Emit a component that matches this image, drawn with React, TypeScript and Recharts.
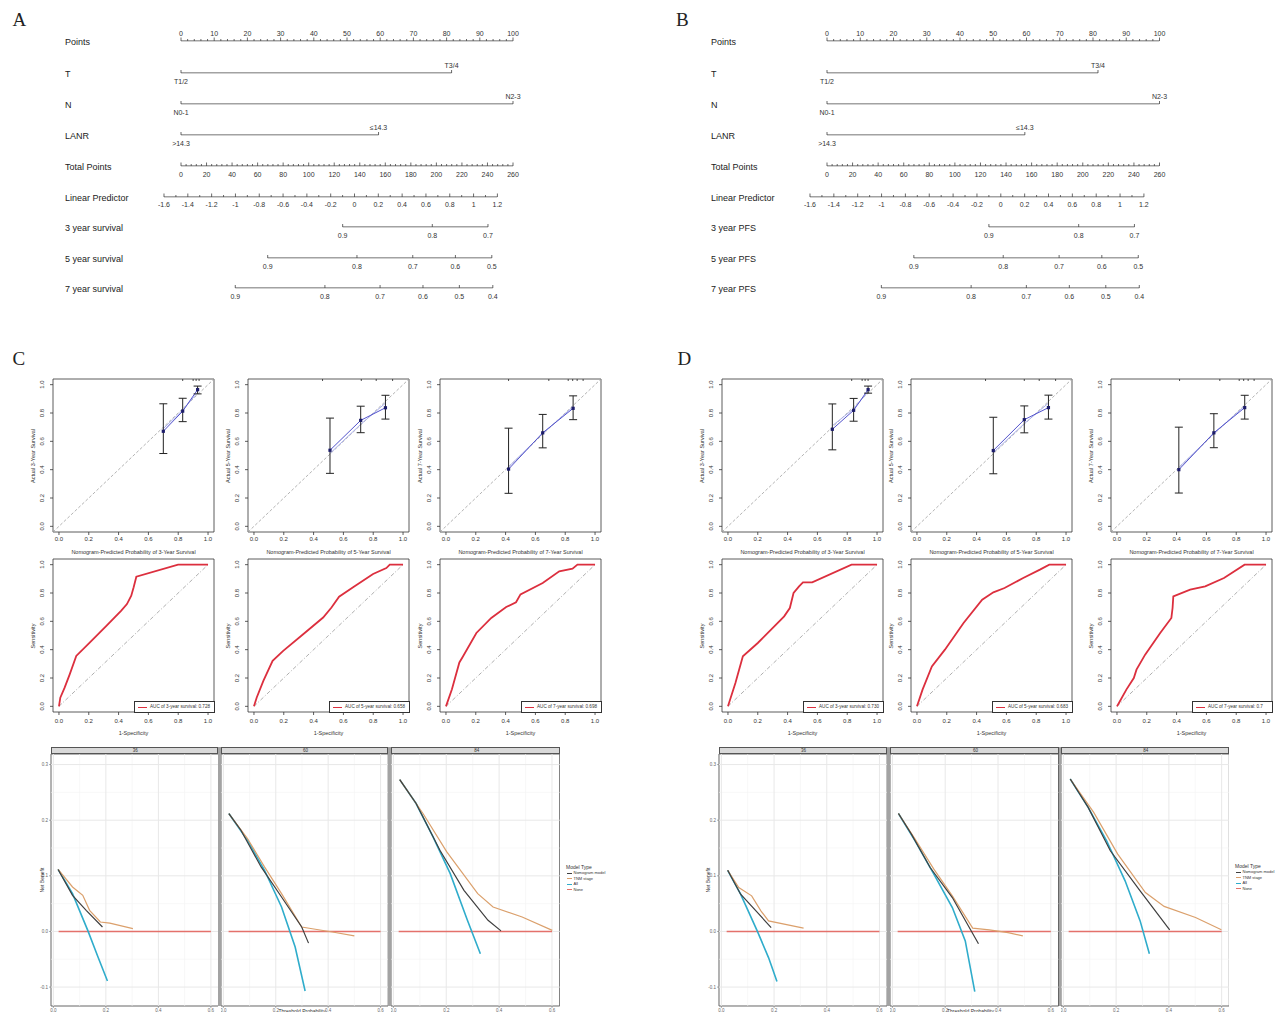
import React from 'react';
import {
  LineChart,
  Line,
  ComposedChart,
  Scatter,
  ErrorBar,
  XAxis,
  YAxis,
  ReferenceLine,
  ReferenceArea,
} from 'recharts';

const FONT = '"Liberation Sans", Arial, sans-serif';
const INK = '#333';

// ---------- nomogram (A / B) ----------
const pointLabels = [0, 10, 20, 30, 40, 50, 60, 70, 80, 90, 100];
const totalPointLabels = [0, 20, 40, 60, 80, 100, 120, 140, 160, 180, 200, 220, 240, 260];
const lpLabels = [-1.6, -1.4, -1.2, -1, -0.8, -0.6, -0.4, -0.2, 0, 0.2, 0.4, 0.6, 0.8, 1, 1.2];
// where LP -1.6 and LP 1.2 sit on the total-points scale
const lpEndsInTotalPoints = [-13, 248.1];

const tPoints = [0, 81.5];
const tLevels = ['T1/2', 'T3/4'];
const nPoints = [0, 100];
const nLevels = ['N0-1', 'N2-3'];
const lanrPoints = [0, 59.5];
const lanrLevels = ['>14.3', '≤14.3'];

// survival scales, positions in total points
const surv3Pos = [126.6, 196.8, 240.4];
const surv3Labels = ['0.9', '0.8', '0.7'];
const surv5Pos = [67.9, 137.8, 181.5, 214.9, 243.4];
const surv5Labels = ['0.9', '0.8', '0.7', '0.6', '0.5'];
const surv7Pos = [42.5, 112.7, 155.9, 189.5, 218, 244.2];
const surv7Labels = ['0.9', '0.8', '0.7', '0.6', '0.5', '0.4'];

// ---------- calibration ----------
const calC3Pred = [0.7, 0.83, 0.93];
const calC3Obs = [0.671, 0.813, 0.965];
const calC3Lo = [0.514, 0.739, 0.935];
const calC3Hi = [0.865, 0.904, 0.99];
const calC3Ideal = [0.69, 0.82, 0.945];
const calC5Pred = [0.51, 0.716, 0.882];
const calC5Obs = [0.537, 0.748, 0.837];
const calC5Lo = [0.374, 0.661, 0.757];
const calC5Hi = [0.764, 0.848, 0.925];
const calC5Ideal = [0.515, 0.72, 0.87];
const calC7Pred = [0.42, 0.649, 0.853];
const calC7Obs = [0.404, 0.66, 0.833];
const calC7Lo = [0.233, 0.554, 0.753];
const calC7Hi = [0.693, 0.79, 0.921];
const calC7Ideal = [0.42, 0.655, 0.845];

const calD3Pred = [0.7, 0.843, 0.94];
const calD3Obs = [0.685, 0.819, 0.965];
const calD3Lo = [0.54, 0.742, 0.94];
const calD3Hi = [0.864, 0.903, 0.99];
const calD3Ideal = [0.71, 0.83, 0.95];
const calD5Pred = [0.512, 0.72, 0.882];
const calD5Obs = [0.535, 0.753, 0.838];
const calD5Lo = [0.371, 0.66, 0.757];
const calD5Hi = [0.77, 0.85, 0.926];
const calD5Ideal = [0.52, 0.725, 0.87];
const calD7Pred = [0.415, 0.65, 0.857];
const calD7Obs = [0.4, 0.66, 0.838];
const calD7Lo = [0.235, 0.555, 0.757];
const calD7Hi = [0.7, 0.795, 0.925];
const calD7Ideal = [0.415, 0.655, 0.85];

const rug3 = [0.83, 0.9, 0.92, 0.94];
const rug5 = [0.46, 0.72, 0.82, 0.93];
const rug7 = [0.42, 0.69, 0.82, 0.85, 0.88, 0.92];

// ---------- ROC ----------
const rocC3 = [[0, 0], [0.009, 0.061], [0.038, 0.132], [0.072, 0.226], [0.116, 0.356], [0.206, 0.45], [0.318, 0.568], [0.418, 0.675], [0.456, 0.722], [0.485, 0.781], [0.501, 0.84], [0.519, 0.915], [0.799, 1], [1, 1]];
const rocC5 = [[0, 0], [0.018, 0.061], [0.063, 0.179], [0.125, 0.321], [0.196, 0.392], [0.33, 0.509], [0.464, 0.627], [0.52, 0.698], [0.571, 0.774], [0.665, 0.84], [0.799, 0.934], [0.888, 0.976], [0.911, 1], [1, 1]];
const rocC7 = [[0, 0], [0.04, 0.12], [0.09, 0.31], [0.11, 0.345], [0.204, 0.518], [0.304, 0.624], [0.404, 0.701], [0.47, 0.735], [0.5, 0.79], [0.649, 0.871], [0.76, 0.953], [0.849, 0.972], [0.882, 1], [1, 1]];
const rocD3 = [[0, 0], [0.05, 0.165], [0.1, 0.353], [0.2, 0.447], [0.377, 0.635], [0.415, 0.694], [0.44, 0.8], [0.477, 0.847], [0.503, 0.875], [0.565, 0.875], [0.829, 1], [1, 1]];
const rocD5 = [[0, 0], [0.0375, 0.118], [0.1, 0.282], [0.1875, 0.4], [0.3125, 0.588], [0.4375, 0.753], [0.5125, 0.805], [0.5875, 0.835], [0.7125, 0.906], [0.825, 0.965], [0.8875, 1], [1, 1]];
const rocD7 = [[0, 0], [0.013, 0.024], [0.063, 0.118], [0.113, 0.2], [0.131, 0.259], [0.189, 0.365], [0.29, 0.518], [0.365, 0.624], [0.373, 0.694], [0.378, 0.776], [0.491, 0.824], [0.592, 0.847], [0.718, 0.906], [0.856, 1], [1, 1]];
const aucLabelsC = ['AUC of 3-year survival: 0.728', 'AUC of 5-year survival: 0.658', 'AUC of 7-year survival: 0.698'];
const aucLabelsD = ['AUC of 3-year survival: 0.730', 'AUC of 5-year survival: 0.683', 'AUC of 7-year survival: 0.7'];

// ---------- decision curves ----------
const dcaNone = [[0.02, 0], [0.6, 0]];
const dcaC36Nomo = [[0.018, 0.1115], [0.073, 0.065], [0.125, 0.038], [0.187, 0.008]];
const dcaC36Alt = [[0.018, 0.1115], [0.073, 0.08], [0.112, 0.065], [0.138, 0.038], [0.179, 0.017], [0.215, 0.015], [0.303, 0.005]];
const dcaC36All = [[0.018, 0.1115], [0.073, 0.068], [0.131, 0.002], [0.17, -0.046], [0.206, -0.089]];
const dcaC60Nomo = [[0.021, 0.212], [0.067, 0.182], [0.144, 0.116], [0.222, 0.062], [0.299, 0.008], [0.325, -0.021]];
const dcaC60Alt = [[0.021, 0.212], [0.092, 0.167], [0.157, 0.116], [0.222, 0.068], [0.299, 0.008], [0.351, 0.004], [0.416, -0.001], [0.5, -0.008]];
const dcaC60All = [[0.021, 0.212], [0.092, 0.164], [0.157, 0.11], [0.222, 0.044], [0.274, -0.028], [0.312, -0.107]];
const dcaC84Nomo = [[0.024, 0.273], [0.086, 0.23], [0.176, 0.146], [0.267, 0.074], [0.358, 0.02], [0.407, 0.001]];
const dcaC84Alt = [[0.024, 0.273], [0.112, 0.212], [0.202, 0.143], [0.319, 0.068], [0.377, 0.044], [0.487, 0.026], [0.601, 0.002]];
const dcaC84All = [[0.024, 0.273], [0.086, 0.23], [0.15, 0.17], [0.215, 0.104], [0.28, 0.02], [0.329, -0.04]];
const dcaD36Nomo = [[0.024, 0.11], [0.073, 0.067], [0.189, 0.007]];
const dcaD36Alt = [[0.024, 0.11], [0.066, 0.079], [0.115, 0.064], [0.15, 0.037], [0.179, 0.019], [0.312, 0.006]];
const dcaD36All = [[0.024, 0.11], [0.073, 0.067], [0.136, 0.001], [0.179, -0.047], [0.211, -0.09]];
const dcaD60Nomo = [[0.023, 0.212], [0.072, 0.175], [0.143, 0.115], [0.227, 0.061], [0.326, -0.022]];
const dcaD60Alt = [[0.023, 0.212], [0.086, 0.166], [0.157, 0.112], [0.227, 0.064], [0.304, 0.006], [0.367, 0.003], [0.438, -0.002], [0.494, -0.008]];
const dcaD60All = [[0.023, 0.212], [0.086, 0.163], [0.157, 0.103], [0.227, 0.043], [0.276, -0.017], [0.312, -0.108]];
const dcaD84Nomo = [[0.026, 0.274], [0.094, 0.223], [0.178, 0.145], [0.291, 0.073], [0.403, 0.003]];
const dcaD84Alt = [[0.026, 0.274], [0.115, 0.214], [0.206, 0.139], [0.311, 0.07], [0.382, 0.045], [0.501, 0.025], [0.599, 0.003]];
const dcaD84All = [[0.026, 0.274], [0.094, 0.223], [0.164, 0.163], [0.234, 0.091], [0.291, 0.019], [0.326, -0.04]];
const dcaStrips = ['36', '60', '84'];
const dcaModels = ['Nomogram model', 'TNM stage', 'All', 'None'];
const dcaColors = ['#3f3f3f', '#dba06c', '#2faccb', '#e4716b'];

const dcaXTicks = [0, 0.2, 0.4, 0.6];
const dcaXMinor = [0.1, 0.3, 0.5];
const dcaYTicks = [-0.1, 0, 0.1, 0.2, 0.3];
const dcaYMinor = [-0.05, 0.05, 0.15, 0.25];

const unitTicks = [0, 0.2, 0.4, 0.6, 0.8, 1];

const steps = (from: number, to: number, by: number) => {
  const out: number[] = [];
  for (let v = from; v <= to + by / 2; v += by) out.push(Math.round(v * 1000) / 1000);
  return out;
};
const fmt1 = (v: number) => Number(v).toFixed(1);
const pairs = (a: number[][]) => a.map(([x, y]) => ({ x, y }));

// ---------- small html text helpers ----------
const Txt = ({ x, y, size, children, anchor = 'left', color = INK }: any) => (
  <div
    style={{
      position: 'absolute',
      left: x,
      top: y,
      fontSize: size,
      lineHeight: 1,
      color,
      whiteSpace: 'nowrap',
      transform: anchor === 'center' ? 'translate(-50%, -50%)' : 'translateY(-50%)',
    }}
  >
    {children}
  </div>
);
const VTxt = ({ x, y, size, children }: any) => (
  <div
    style={{
      position: 'absolute',
      left: x,
      top: y,
      fontSize: size,
      lineHeight: 1,
      color: INK,
      whiteSpace: 'nowrap',
      transform: 'translate(-50%, -50%) rotate(-90deg)',
    }}
  >
    {children}
  </div>
);
const Letter = ({ x, y, text }: any) => (
  <div style={{ position: 'absolute', left: x, top: y, fontFamily: '"Liberation Serif", serif', fontSize: 19, lineHeight: '19px', color: '#222' }}>
    {text}
  </div>
);

// ---------- nomogram row ----------
function NomoRow({ x0, x1, y, domain, line, ticks, text, above, len }: any) {
  const pad = 30;
  const data = line.map((v: number) => ({ v, base: 0 }));
  const drawTick = (p: any) => {
    const v = p.payload.value;
    const i = ticks.indexOf(v);
    const t = text(v, i);
    const l = len(v);
    return (
      <g>
        {l > 0 ? <line x1={p.x} x2={p.x} y1={p.y} y2={p.y - l} stroke="#444" strokeWidth={0.8} /> : null}
        {t ? (
          <text x={p.x} y={above(i) ? p.y - 5 : p.y + 10.5} textAnchor="middle" fontSize={7} fill={INK} fontFamily={FONT}>
            {t}
          </text>
        ) : null}
      </g>
    );
  };
  return (
    <div style={{ position: 'absolute', left: x0 - pad, top: y - 20 }}>
      <LineChart width={x1 - x0 + pad * 2} height={40} data={data} margin={{ top: 19, right: pad, bottom: 0, left: pad }}>
        <XAxis
          type="number"
          dataKey="v"
          domain={domain}
          ticks={ticks}
          interval={0}
          allowDataOverflow
          axisLine={false}
          tickLine={false}
          tickSize={0}
          tickMargin={0}
          height={20}
          tick={drawTick}
        />
        <YAxis hide domain={[0, 1]} />
        <Line dataKey="base" stroke="#444" strokeWidth={1} dot={false} isAnimationActive={false} />
      </LineChart>
    </div>
  );
}

const rowY = [41, 73, 104, 134.5, 165.5, 196.5, 227, 257.5, 288];

function Nomogram({ x0, x1, labelX, outcome }: any) {
  const px = (tp: number) => x0 + (tp / 260) * (x1 - x0);
  const names = ['Points', 'T', 'N', 'LANR', 'Total Points', 'Linear Predictor', `3 year ${outcome}`, `5 year ${outcome}`, `7 year ${outcome}`];
  const levelRow = (pts: number[], lv: string[], y: number) => (
    <NomoRow x0={x0} x1={x1} y={y} domain={[0, 100]} line={pts} ticks={pts} text={(_v: number, i: number) => lv[i]} above={(i: number) => i === 1} len={() => 3} />
  );
  const survRow = (pos: number[], lab: string[], y: number) => (
    <NomoRow x0={x0} x1={x1} y={y} domain={[0, 260]} line={pos} ticks={pos} text={(_v: number, i: number) => lab[i]} above={() => false} len={() => 3} />
  );
  return (
    <>
      {names.map((n, i) => (
        <Txt key={n} x={labelX} y={rowY[i] + 1} size={9} color="#222">
          {n}
        </Txt>
      ))}
      <NomoRow
        x0={x0}
        x1={x1}
        y={rowY[0]}
        domain={[0, 100]}
        line={[0, 100]}
        ticks={steps(0, 100, 2)}
        text={(v: number) => (pointLabels.includes(v) ? String(v) : '')}
        above={() => true}
        len={(v: number) => (pointLabels.includes(v) ? 3.5 : 2)}
      />
      {levelRow(tPoints, tLevels, rowY[1])}
      {levelRow(nPoints, nLevels, rowY[2])}
      {levelRow(lanrPoints, lanrLevels, rowY[3])}
      <NomoRow
        x0={x0}
        x1={x1}
        y={rowY[4]}
        domain={[0, 260]}
        line={[0, 260]}
        ticks={steps(0, 260, 4)}
        text={(v: number) => (totalPointLabels.includes(v) ? String(v) : '')}
        above={() => false}
        len={(v: number) => (totalPointLabels.includes(v) ? 3.5 : 2)}
      />
      <NomoRow
        x0={px(lpEndsInTotalPoints[0])}
        x1={px(lpEndsInTotalPoints[1])}
        y={rowY[5]}
        domain={[-1.6, 1.2]}
        line={[-1.6, 1.2]}
        ticks={steps(-1.6, 1.2, 0.1)}
        text={(v: number) => (lpLabels.includes(v) ? String(v) : '')}
        above={() => false}
        len={(v: number) => (lpLabels.includes(v) ? 3.5 : 2)}
      />
      {survRow(surv3Pos, surv3Labels, rowY[6])}
      {survRow(surv5Pos, surv5Labels, rowY[7])}
      {survRow(surv7Pos, surv7Labels, rowY[8])}
    </>
  );
}

// ---------- calibration / ROC frames ----------
const rotTick = (p: any) => (
  <text x={p.x} y={p.y} transform={`rotate(-90 ${p.x} ${p.y})`} textAnchor="middle" fontSize={6} fill={INK} fontFamily={FONT}>
    {fmt1(p.payload.value)}
  </text>
);
const squareDot = (p: any) => <rect x={p.cx - 1.6} y={p.cy - 1.6} width={3.2} height={3.2} fill="#1c1c6a" />;
const rugMark = (p: any) => <line x1={p.cx} x2={p.cx} y1={p.cy - 3} y2={p.cy + 2} stroke="#222" strokeWidth={0.8} />;

const PW = 161;
const PH = 153;
const YW = 24;

function frameAxes(xMargin: number) {
  return [
    <XAxis
      key="x"
      type="number"
      dataKey="x"
      domain={[-0.04, 1.04]}
      ticks={unitTicks}
      interval={0}
      allowDataOverflow
      axisLine={false}
      tickSize={3}
      tickMargin={xMargin}
      height={16}
      tickLine={{ stroke: INK, strokeWidth: 0.8 }}
      tick={{ fontSize: 6, fill: INK, fontFamily: FONT }}
      tickFormatter={fmt1}
    />,
    <YAxis
      key="y"
      type="number"
      dataKey="y"
      domain={[-0.04, 1.04]}
      ticks={unitTicks}
      interval={0}
      allowDataOverflow
      axisLine={false}
      tickSize={3}
      tickMargin={6}
      width={YW}
      tickLine={{ stroke: INK, strokeWidth: 0.8 }}
      tick={rotTick}
    />,
    <ReferenceArea key="box" x1={-0.04} x2={1.04} y1={-0.04} y2={1.04} fill="none" stroke={INK} strokeWidth={0.8} ifOverflow="visible" />,
  ];
}

function CalibrationPlot({ left, top, pred, obs, lo, hi, ideal, rug, year }: any) {
  const pts = pred.map((x: number, i: number) => ({ x, y: obs[i], err: [obs[i] - lo[i], hi[i] - obs[i]] }));
  const idealPts = pred.map((x: number, i: number) => ({ x, y: ideal[i] }));
  const rugPts = rug.map((x: number) => ({ x, y: 1.04 }));
  return (
    <>
      <div style={{ position: 'absolute', left: left - YW, top: top - 6 }}>
        <ComposedChart width={PW + YW + 4} height={PH + 6 + 16} margin={{ top: 6, right: 4, bottom: 0, left: 0 }}>
          {frameAxes(1.5)}
          <ReferenceLine segment={[{ x: -0.04, y: -0.04 }, { x: 1.04, y: 1.04 }]} stroke="#a0a0a0" strokeDasharray="3 2" strokeWidth={0.8} ifOverflow="visible" />
          <Line data={idealPts} dataKey="y" stroke="#aab0ea" strokeWidth={1} dot={false} isAnimationActive={false} />
          <Line data={pts} dataKey="y" stroke="#5252cc" strokeWidth={1} dot={false} isAnimationActive={false} />
          <Scatter data={pts} dataKey="y" shape={squareDot} isAnimationActive={false}>
            <ErrorBar dataKey="err" direction="y" width={4} stroke="#222" strokeWidth={1} />
          </Scatter>
          <Scatter data={rugPts} dataKey="y" shape={rugMark} isAnimationActive={false} />
        </ComposedChart>
      </div>
      <Txt x={left + PW / 2} y={top + PH + 20.5} size={5.5} anchor="center">
        {`Nomogram-Predicted Probability of ${year}-Year Survival`}
      </Txt>
      <VTxt x={left - 19} y={top + PH / 2} size={5.5}>
        {`Actual ${year}-Year Survival`}
      </VTxt>
    </>
  );
}

function RocPlot({ left, top, curve, legend }: any) {
  return (
    <>
      <div style={{ position: 'absolute', left: left - YW, top: top - 6 }}>
        <ComposedChart width={PW + YW + 4} height={PH + 6 + 16} margin={{ top: 6, right: 4, bottom: 0, left: 0 }}>
          {frameAxes(4)}
          <ReferenceLine segment={[{ x: 0, y: 0 }, { x: 1, y: 1 }]} stroke="#9a9a9a" strokeDasharray="4 2 1 2" strokeWidth={0.8} />
          <Line data={pairs(curve)} dataKey="y" stroke="#dc2f3e" strokeWidth={1.8} dot={false} isAnimationActive={false} />
        </ComposedChart>
      </div>
      <div
        style={{
          position: 'absolute',
          left: left + PW - 80,
          top: top + PH - 11,
          width: 79,
          height: 10,
          border: `0.8px solid ${INK}`,
          background: '#fff',
        }}
      >
        <div style={{ position: 'absolute', left: 3, top: 4.5, width: 9, borderTop: '1.5px solid #dc2f3e' }} />
        <Txt x={15} y={5} size={4.6}>
          {legend}
        </Txt>
      </div>
      <Txt x={left + PW / 2} y={top + PH + 22} size={5.5} anchor="center">
        1-Specificity
      </Txt>
      <VTxt x={left - 19} y={top + PH / 2} size={5.5}>
        Sensitivity
      </VTxt>
    </>
  );
}

// ---------- decision curve panel ----------
const DCA_TOP = 754;
const DCA_BOTTOM = 1006;

function DcaPanel({ left, right, strip, nomo, alt, all, showY }: any) {
  const yw = showY ? 12 : 0;
  const w = right - left;
  return (
    <>
      <div
        style={{
          position: 'absolute',
          left,
          top: 747,
          width: w,
          height: 6.5,
          background: '#d9d9d9',
          boxSizing: 'border-box',
          border: '0.6px solid #555',
        }}
      >
        <Txt x={w / 2} y={3.2} size={4.5} anchor="center">
          {strip}
        </Txt>
      </div>
      <div style={{ position: 'absolute', left: left - yw, top: DCA_TOP }}>
        <LineChart width={w + yw} height={DCA_BOTTOM - DCA_TOP + 10} margin={{ top: 0, right: 0, bottom: 0, left: 0 }}>
          <XAxis
            type="number"
            dataKey="x"
            domain={[-0.009, 0.629]}
            ticks={dcaXTicks}
            interval={0}
            allowDataOverflow
            axisLine={false}
            tickSize={2}
            tickMargin={1}
            height={10}
            tickLine={{ stroke: '#777', strokeWidth: 0.6 }}
            tick={{ fontSize: 4.5, fill: '#666', fontFamily: FONT }}
            tickFormatter={fmt1}
          />
          <YAxis
            type="number"
            dataKey="y"
            domain={[-0.134, 0.319]}
            ticks={dcaYTicks}
            interval={0}
            allowDataOverflow
            hide={!showY}
            width={yw}
            axisLine={false}
            tickSize={2}
            tickMargin={1}
            tickLine={{ stroke: '#777', strokeWidth: 0.6 }}
            tick={{ fontSize: 4.5, fill: '#666', fontFamily: FONT }}
            tickFormatter={fmt1}
          />
          {dcaXMinor.map((v) => (
            <ReferenceLine key={'xm' + v} x={v} stroke="#f3f3f3" strokeWidth={0.6} />
          ))}
          {dcaYMinor.map((v) => (
            <ReferenceLine key={'ym' + v} y={v} stroke="#f3f3f3" strokeWidth={0.6} />
          ))}
          {dcaXTicks.map((v) => (
            <ReferenceLine key={'xM' + v} x={v} stroke="#e8e8e8" strokeWidth={1} />
          ))}
          {dcaYTicks.map((v) => (
            <ReferenceLine key={'yM' + v} y={v} stroke="#e8e8e8" strokeWidth={1} />
          ))}
          <Line data={pairs(dcaNone)} dataKey="y" stroke={dcaColors[3]} strokeWidth={1.4} dot={false} isAnimationActive={false} />
          <Line data={pairs(all)} dataKey="y" stroke={dcaColors[2]} strokeWidth={1.6} dot={false} isAnimationActive={false} />
          <Line data={pairs(alt)} dataKey="y" stroke={dcaColors[1]} strokeWidth={1.2} dot={false} isAnimationActive={false} />
          <Line data={pairs(nomo)} dataKey="y" stroke={dcaColors[0]} strokeWidth={1.2} dot={false} isAnimationActive={false} />
          <ReferenceArea x1={-0.009} x2={0.629} y1={-0.134} y2={0.319} fill="none" stroke="#666" strokeWidth={1} ifOverflow="visible" />
        </LineChart>
      </div>
    </>
  );
}

function DcaLegend({ x, y }: any) {
  return (
    <>
      <Txt x={x} y={y} size={5}>
        Model Type
      </Txt>
      {dcaModels.map((m, i) => (
        <React.Fragment key={m}>
          <div style={{ position: 'absolute', left: x + 0.5, top: y + 5.5 + i * 5.6, width: 5, borderTop: `1.2px solid ${dcaColors[i]}` }} />
          <Txt x={x + 7.5} y={y + 6 + i * 5.6} size={4}>
            {m}
          </Txt>
        </React.Fragment>
      ))}
    </>
  );
}

function Separator({ x, w }: any) {
  return <div style={{ position: 'absolute', left: x, top: 747, width: w, height: DCA_BOTTOM - 747, background: '#a3a3a3' }} />;
}

export default function App() {
  const calTop = 379;
  const rocTop = 559;
  const cLeft = [53, 248, 440];
  const dLeft = [722, 911, 1111];
  return (
    <div
      style={{
        position: 'absolute',
        left: 0,
        top: 0,
        width: 1277,
        height: 1012,
        overflow: 'hidden',
        background: '#fff',
        fontFamily: FONT,
      }}
    >
      <Letter x={12.5} y={10} text="A" />
      <Letter x={676} y={10} text="B" />
      <Letter x={12.5} y={349} text="C" />
      <Letter x={677.5} y={349} text="D" />

      <Nomogram x0={181} x1={513} labelX={65} outcome="survival" />
      <Nomogram x0={826.5} x1={1159} labelX={711} outcome="PFS" />

      <CalibrationPlot left={cLeft[0]} top={calTop} pred={calC3Pred} obs={calC3Obs} lo={calC3Lo} hi={calC3Hi} ideal={calC3Ideal} rug={rug3} year={3} />
      <CalibrationPlot left={cLeft[1]} top={calTop} pred={calC5Pred} obs={calC5Obs} lo={calC5Lo} hi={calC5Hi} ideal={calC5Ideal} rug={rug5} year={5} />
      <CalibrationPlot left={cLeft[2]} top={calTop} pred={calC7Pred} obs={calC7Obs} lo={calC7Lo} hi={calC7Hi} ideal={calC7Ideal} rug={rug7} year={7} />
      <CalibrationPlot left={dLeft[0]} top={calTop} pred={calD3Pred} obs={calD3Obs} lo={calD3Lo} hi={calD3Hi} ideal={calD3Ideal} rug={rug3} year={3} />
      <CalibrationPlot left={dLeft[1]} top={calTop} pred={calD5Pred} obs={calD5Obs} lo={calD5Lo} hi={calD5Hi} ideal={calD5Ideal} rug={rug5} year={5} />
      <CalibrationPlot left={dLeft[2]} top={calTop} pred={calD7Pred} obs={calD7Obs} lo={calD7Lo} hi={calD7Hi} ideal={calD7Ideal} rug={rug7} year={7} />

      <RocPlot left={cLeft[0]} top={rocTop} curve={rocC3} legend={aucLabelsC[0]} />
      <RocPlot left={cLeft[1]} top={rocTop} curve={rocC5} legend={aucLabelsC[1]} />
      <RocPlot left={cLeft[2]} top={rocTop} curve={rocC7} legend={aucLabelsC[2]} />
      <RocPlot left={dLeft[0]} top={rocTop} curve={rocD3} legend={aucLabelsD[0]} />
      <RocPlot left={dLeft[1]} top={rocTop} curve={rocD5} legend={aucLabelsD[1]} />
      <RocPlot left={dLeft[2]} top={rocTop} curve={rocD7} legend={aucLabelsD[2]} />

      <Separator x={218} w={2.8} />
      <Separator x={388} w={3.3} />
      <DcaPanel left={50.5} right={218} strip={dcaStrips[0]} nomo={dcaC36Nomo} alt={dcaC36Alt} all={dcaC36All} showY />
      <DcaPanel left={220.8} right={388} strip={dcaStrips[1]} nomo={dcaC60Nomo} alt={dcaC60Alt} all={dcaC60All} />
      <DcaPanel left={391.3} right={560} strip={dcaStrips[2]} nomo={dcaC84Nomo} alt={dcaC84Alt} all={dcaC84All} />
      <VTxt x={41.5} y={880} size={5}>
        Net Benefit
      </VTxt>
      <Txt x={302} y={1011} size={5} anchor="center">
        Threshold Probability
      </Txt>
      <DcaLegend x={566} y={867} />

      <Separator x={886.6} w={3.7} />
      <Separator x={1058.8} w={1.9} />
      <DcaPanel left={718.5} right={886.6} strip={dcaStrips[0]} nomo={dcaD36Nomo} alt={dcaD36Alt} all={dcaD36All} showY />
      <DcaPanel left={890.3} right={1058.8} strip={dcaStrips[1]} nomo={dcaD60Nomo} alt={dcaD60Alt} all={dcaD60All} />
      <DcaPanel left={1060.7} right={1229} strip={dcaStrips[2]} nomo={dcaD84Nomo} alt={dcaD84Alt} all={dcaD84All} />
      <VTxt x={708} y={880} size={5}>
        Net Benefit
      </VTxt>
      <Txt x={970.5} y={1011} size={5} anchor="center">
        Threshold Probability
      </Txt>
      <DcaLegend x={1235} y={866} />
    </div>
  );
}
